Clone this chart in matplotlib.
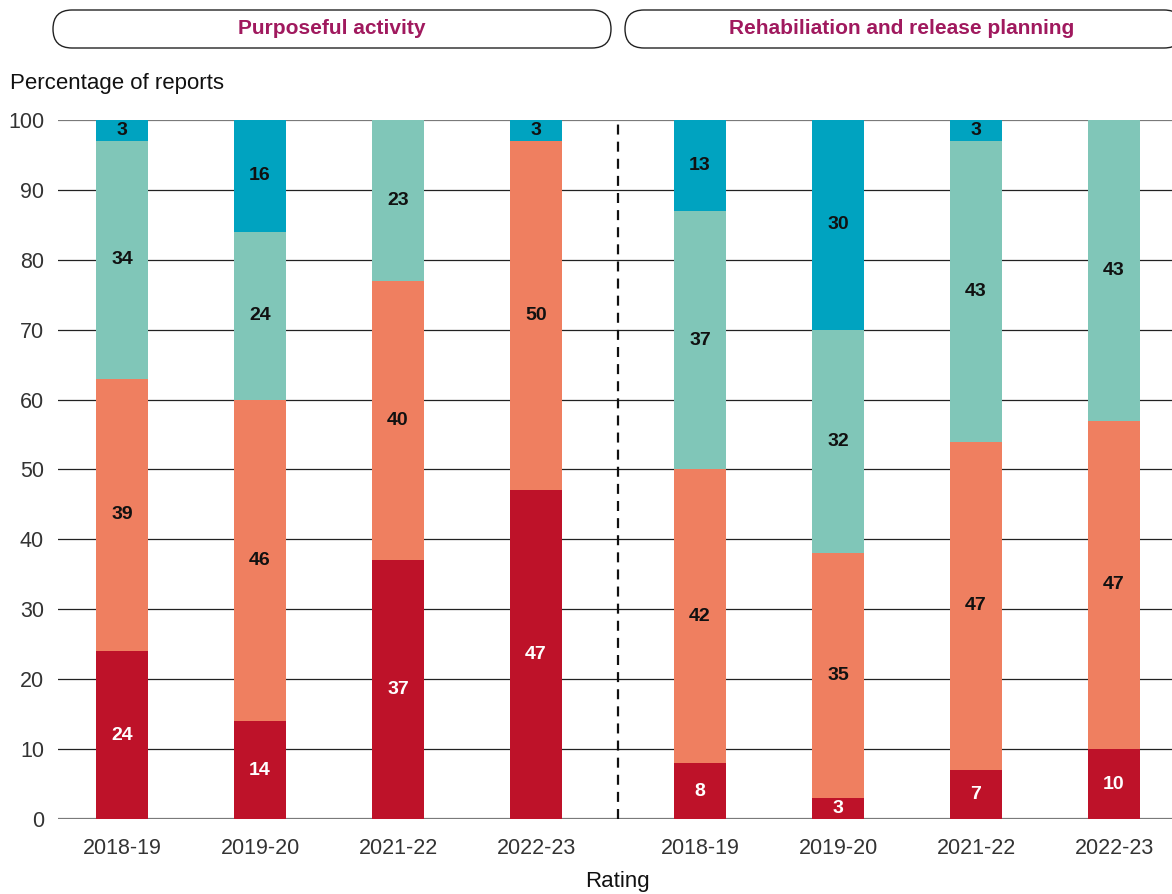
import matplotlib
matplotlib.use("Agg")
import matplotlib.pyplot as plt
from matplotlib.patches import FancyBboxPatch
import numpy as np

plt.rcParams['font.family'] = ['Liberation Sans', 'DejaVu Sans']

# ---- data ----
years = ['2018-19', '2019-20', '2021-22', '2022-23']
panel_titles = ['Purposeful activity', 'Rehabiliation and release planning']

purposeful_red = [24, 14, 37, 47]
purposeful_orange = [39, 46, 40, 50]
purposeful_teal = [34, 24, 23, 0]
purposeful_blue = [3, 16, 0, 3]

rehab_red = [8, 3, 7, 10]
rehab_orange = [42, 35, 47, 47]
rehab_teal = [37, 32, 43, 43]
rehab_blue = [13, 30, 3, 0]

y_ticks = [0, 10, 20, 30, 40, 50, 60, 70, 80, 90, 100]

# ---- style ----
colors = ['#BE1229', '#EF7F60', '#80C6B8', '#00A3C0']
text_colors = ['white', '#111111', '#111111', '#111111']
title_color = '#A0195E'
tick_color = '#333333'

W, H = 1172, 894
fig = plt.figure(figsize=(W / 100, H / 100), dpi=100)

ax_left, ax_right = 58, 1172
ax_top, ax_bottom = 120, 819
ax = fig.add_axes([ax_left / W, 1 - ax_bottom / H,
                   (ax_right - ax_left) / W, (ax_bottom - ax_top) / H])

step = 138.0
gap = 164.0 / step
pos_left = np.arange(4, dtype=float)
pos_right = np.arange(4, dtype=float) + 3 + gap
width = 52 / step

groups = [
    (pos_left, [purposeful_red, purposeful_orange, purposeful_teal, purposeful_blue]),
    (pos_right, [rehab_red, rehab_orange, rehab_teal, rehab_blue]),
]

for positions, series in groups:
    bottom = np.zeros(len(positions))
    for vals, col, tcol in zip(series, colors, text_colors):
        vals = np.array(vals, dtype=float)
        ax.bar(positions, vals, width=width, bottom=bottom, color=col,
               linewidth=0, zorder=2)
        for x, b, v in zip(positions, bottom, vals):
            if v > 0:
                ax.text(x, b + v / 2, f'{int(v)}', ha='center', va='center',
                        fontsize=14, fontweight='bold', color=tcol, zorder=3)
        bottom += vals

x0 = pos_left[0] - (122 - ax_left) / step
x1 = pos_left[0] + (ax_right - 122) / step
ax.set_xlim(x0, x1)
ax.set_ylim(0, 100)

# gridlines
for t in y_ticks:
    if t in (0, 100):
        ax.axhline(t, color='#7a7a7a', lw=1.6, zorder=1)
    else:
        ax.axhline(t, color='#222222', lw=0.9, zorder=1)

# separator between the two panels
sep = (pos_left[-1] + pos_right[0]) / 2
ax.plot([sep, sep], [0, 100], color='#111111', lw=1.6,
        linestyle=(0, (4.5, 3.2)), zorder=4, clip_on=False)

ax.set_yticks(y_ticks)
ax.set_yticklabels([str(t) for t in y_ticks])
ax.set_xticks(np.concatenate([pos_left, pos_right]))
ax.set_xticklabels(years + years)
ax.tick_params(axis='both', length=0, labelsize=15.5, colors=tick_color)
ax.tick_params(axis='y', pad=10)
ax.tick_params(axis='x', pad=14)
for s in ax.spines.values():
    s.set_visible(False)

# overlay in pixel coordinates for headers and captions
ov = fig.add_axes([0, 0, 1, 1], zorder=5)
ov.set_xlim(0, W)
ov.set_ylim(H, 0)
ov.axis('off')
ov.patch.set_alpha(0)

pills = [(53, 611), (625, 1183)]
title_x = [332, 902]
for (pl, pr), title, cx in zip(pills, panel_titles, title_x):
    box = FancyBboxPatch((pl, 10), pr - pl, 38,
                         boxstyle='round,pad=0,rounding_size=19',
                         facecolor='white', edgecolor='#222222', lw=1.0,
                         clip_on=False)
    ov.add_patch(box)
    ov.text(cx, 29, title, ha='center', va='center', fontsize=15,
            fontweight='bold', color=title_color)

ov.text(10, 83, 'Percentage of reports', ha='left', va='center',
        fontsize=16, color='#111111')
ov.text(617, 882, 'Rating', ha='center', va='center', fontsize=16,
        color='#111111')

fig.savefig('out.png', dpi=100)
